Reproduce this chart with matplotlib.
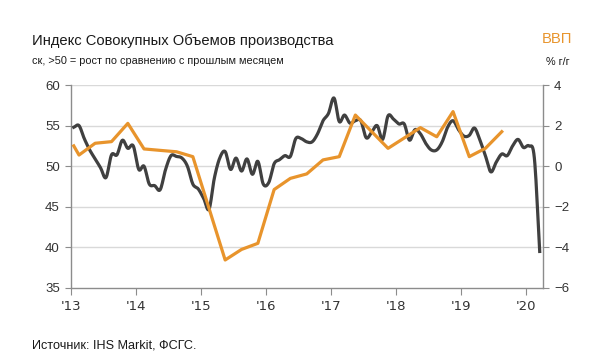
import numpy as np
import pandas as pd
import matplotlib
matplotlib.use("Agg")
import matplotlib.pyplot as plt
import matplotlib.dates as mdates
from matplotlib import font_manager

# ---- data ----
pmi_start = "2013-01-01"
pmi_values = [54.8, 55.0, 53.4, 52.0, 50.9, 49.8, 48.6, 51.4, 51.4, 53.2, 52.2, 52.5,
              49.6, 50.0, 47.8, 47.6, 47.1, 49.6, 51.3, 51.2, 51.0, 50.0, 47.8, 47.2,
              46.0, 44.7, 48.5, 51.0, 51.8, 49.6, 51.0, 49.4, 50.9, 49.0, 50.6, 47.8,
              48.0, 50.3, 50.8, 51.3, 51.2, 53.4, 53.4, 53.0, 53.0, 54.0, 55.6, 56.5,
              58.4, 55.5, 56.3, 55.3, 55.6, 55.6, 53.5, 54.2, 55.0, 53.3, 56.2, 55.8,
              55.2, 55.2, 53.2, 54.5, 54.0, 52.8, 52.0, 52.0, 53.0, 54.8, 55.6, 54.5,
              53.7, 53.8, 54.7, 53.2, 51.3, 49.3, 50.5, 51.5, 51.3, 52.5, 53.3, 52.3,
              52.5, 51.0, 39.5]

gdp_months = ["2013-01", "2013-02", "2013-05", "2013-08", "2013-11",
              "2014-02", "2014-05", "2014-08", "2014-11",
              "2015-02", "2015-05", "2015-08", "2015-11",
              "2016-02", "2016-05", "2016-08", "2016-11",
              "2017-02", "2017-05", "2017-08", "2017-11",
              "2018-02", "2018-05", "2018-08", "2018-11",
              "2019-02", "2019-05", "2019-08"]
gdp_values = [1.0, 0.55, 1.13, 1.21, 2.11,
              0.85, 0.78, 0.71, 0.47,
              -2.08, -4.62, -4.10, -3.80,
              -1.15, -0.60, -0.38, 0.31,
              0.47, 2.52, 1.70, 0.88,
              1.39, 1.90, 1.45, 2.69,
              0.47, 0.88, 1.70]

year_ticks = ["2013", "2014", "2015", "2016", "2017", "2018", "2019", "2020"]
year_labels = ["'13", "'14", "'15", "'16", "'17", "'18", "'19", "'20"]
left_ticks = [35, 40, 45, 50, 55, 60]
right_ticks = [-6, -4, -2, 0, 2, 4]

title = "Индекс Совокупных Объемов производства"
subtitle = "ск, >50 = рост по сравнению с прошлым месяцем"
right_title = "ВВП"
right_sub = "% г/г"
source = "Источник: IHS Markit, ФСГС."

# ---- helpers ----
def mid_month(periods):
    p = pd.PeriodIndex(periods, freq="M")
    st = p.start_time
    en = p.end_time
    return mdates.date2num(st) + (mdates.date2num(en) - mdates.date2num(st)) / 2

def smooth(x, y, n=12):
    x = np.asarray(x, float); y = np.asarray(y, float)
    xs, ys = [], []
    for i in range(len(x) - 1):
        p0 = (x[i-1], y[i-1]) if i > 0 else (2*x[i]-x[i+1], 2*y[i]-y[i+1])
        p1 = (x[i], y[i]); p2 = (x[i+1], y[i+1])
        p3 = (x[i+2], y[i+2]) if i+2 < len(x) else (2*x[i+1]-x[i], 2*y[i+1]-y[i])
        t = np.linspace(0, 1, n, endpoint=False)
        for P, L in ((0, xs), (1, ys)):
            a0, a1, a2, a3 = p0[P], p1[P], p2[P], p3[P]
            L.extend(0.5*((2*a1) + (-a0+a2)*t + (2*a0-5*a1+4*a2-a3)*t**2 + (-a0+3*a1-3*a2+a3)*t**3))
    xs.append(x[-1]); ys.append(y[-1])
    return np.array(xs), np.array(ys)

names = {f.name for f in font_manager.fontManager.ttflist}
narrow = "Liberation Sans Narrow" in names
HEAD = "Liberation Sans Narrow" if narrow else "Liberation Sans"
k = 1.0 if narrow else 0.87

pmi_periods = pd.period_range(pmi_start, periods=len(pmi_values), freq="M")
pmi_x = mid_month(pmi_periods.astype(str))
gdp_x = mid_month(gdp_months)

BLACK = "#404040"
ORANGE = "#E8942C"
GRID = "#D9D9D9"
SPINE = "#8C8C8C"

fig = plt.figure(figsize=(5.92, 3.62), dpi=100)
ax = fig.add_axes([71/592, 1-288/362, (543-71)/592, (288-85)/362])
ax2 = ax.twinx()

ax.set_ylim(35, 60)
ax2.set_ylim(-6, 4)
ax.set_xlim(mdates.date2num(pd.Timestamp("2013-01-01")), mdates.date2num(pd.Timestamp("2020-04-04")))

ax.set_yticks(left_ticks)
ax2.set_yticks(right_ticks)
ax.set_xticks(mdates.date2num(pd.to_datetime(year_ticks)))
ax.set_xticklabels(year_labels)

for y in left_ticks[1:]:
    ax.axhline(y, color=GRID, lw=1.0, zorder=0)

gx, gy = np.asarray(gdp_x), np.asarray(gdp_values)
px, py = smooth(pmi_x, pmi_values, 10)
ax2.plot(px, (py - 50) / 2.5, color=BLACK, lw=2.3, zorder=2)
ax2.plot(gx, gy, color=ORANGE, lw=2.3, solid_joinstyle="round", zorder=3)

for a in (ax, ax2):
    a.spines["top"].set_visible(False)
    for s in ("left", "right", "bottom"):
        a.spines[s].set_color(SPINE)
        a.spines[s].set_linewidth(1.0)
ax.spines["right"].set_visible(False)
ax2.spines["left"].set_visible(False)
ax2.spines["bottom"].set_visible(False)

ax.tick_params(axis="y", direction="out", length=4, color=SPINE, labelsize=9.5, labelcolor="#333333", pad=4)
ax2.tick_params(axis="y", direction="out", length=4, color=SPINE, labelsize=9.5, labelcolor="#333333", pad=4)
ax.tick_params(axis="x", direction="out", length=5, color=SPINE, labelsize=9.5, labelcolor="#333333", pad=4)
for lab in ax.get_yticklabels() + ax2.get_yticklabels():
    lab.set_fontfamily("Liberation Sans")
for lab in ax.get_xticklabels():
    lab.set_fontfamily("DejaVu Sans")

fig.text(32/592, 1-41/362, title, fontsize=12.2*k, family=HEAD, color="#1a1a1a", va="center", ha="left")
fig.text(32/592, 1-61/362, subtitle, fontsize=9.0*k, family=HEAD, color="#1a1a1a", va="center", ha="left")
fig.text(572/592, 1-39/362, right_title, fontsize=12.2*k, family=HEAD, color=ORANGE, va="center", ha="right")
fig.text(570/592, 1-62/362, right_sub, fontsize=9.0*k, family=HEAD, color="#1a1a1a", va="center", ha="right")
fig.text(32/592, 1-346/362, source, fontsize=10.5*k, family=HEAD, color="#1a1a1a", va="center", ha="left")

fig.savefig("out.png", dpi=100)
